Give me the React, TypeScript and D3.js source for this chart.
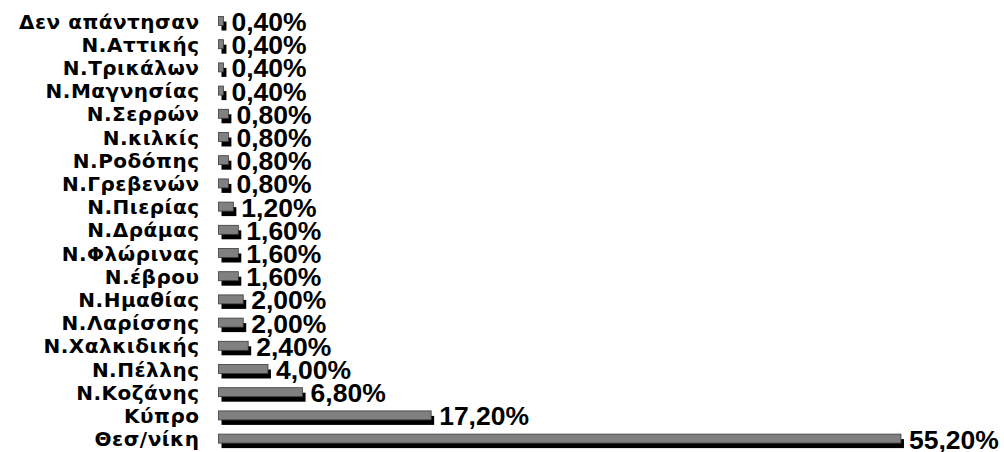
import React, { useEffect, useRef } from "react";
import * as d3 from "d3";

const categories = [
  "Δεν απάντησαν",
  "Ν.Αττικής",
  "Ν.Τρικάλων",
  "Ν.Μαγνησίας",
  "Ν.Σερρών",
  "Ν.κιλκίς",
  "Ν.Ροδόπης",
  "Ν.Γρεβενών",
  "Ν.Πιερίας",
  "Ν.Δράμας",
  "Ν.Φλώρινας",
  "Ν.έβρου",
  "Ν.Ημαθίας",
  "Ν.Λαρίσσης",
  "Ν.Χαλκιδικής",
  "Ν.Πέλλης",
  "Ν.Κοζάνης",
  "Κύπρο",
  "Θεσ/νίκη",
];

const values = [
  0.4, 0.4, 0.4, 0.4, 0.8, 0.8, 0.8, 0.8, 1.2, 1.6, 1.6, 1.6, 2.0, 2.0, 2.4,
  4.0, 6.8, 17.2, 55.2,
];

const App: React.FC = () => {
  const svgRef = useRef<SVGSVGElement | null>(null);
  const width = 1004;
  const height = 452;

  useEffect(() => {
    const svg = d3.select(svgRef.current);
    svg.selectAll("*").remove();

    const data = categories.map((name, i) => ({ name, value: values[i] }));

    const x = d3.scaleLinear().domain([0, 60]).range([218.5, 960.3]);
    const y = d3
      .scalePoint<string>()
      .domain(categories)
      .range([21, 438.6]);

    const barH = 9;
    const dx = 3;
    const dy = 5;

    const g = svg.append("g");

    // shadow
    g.selectAll(".shadow")
      .data(data)
      .enter()
      .append("rect")
      .attr("x", x(0) + dx)
      .attr("y", (d) => (y(d.name) as number) - barH / 2 + dy)
      .attr("width", (d) => Math.max(x(d.value) - x(0), 4))
      .attr("height", barH)
      .attr("fill", "#000");

    // bars
    g.selectAll(".bar")
      .data(data)
      .enter()
      .append("rect")
      .attr("x", x(0))
      .attr("y", (d) => (y(d.name) as number) - barH / 2)
      .attr("width", (d) => Math.max(x(d.value) - x(0), 4))
      .attr("height", barH)
      .attr("fill", "#808080")
      .attr("stroke", "#3a3a3a")
      .attr("stroke-width", 0.8);

    // category labels
    g.selectAll(".cat")
      .data(data)
      .enter()
      .append("text")
      .attr("x", 199 + 0.5)
      .attr("y", (d) => (y(d.name) as number) + 7.5)
      .attr("text-anchor", "end")
      .style("font-family", "'DejaVu Sans', Verdana, sans-serif")
      .style("font-weight", "bold")
      .style("font-size", "20px")
      .style("letter-spacing", "0.5px")
      .text((d) => d.name);

    // value labels
    g.selectAll(".val")
      .data(data)
      .enter()
      .append("text")
      .attr("x", (d) => x(d.value) + 8)
      .attr("y", (d) => (y(d.name) as number) + 10)
      .style("font-family", "'Liberation Sans', Arial, sans-serif")
      .style("font-weight", "bold")
      .style("font-size", "26.5px")
      .text((d) => d.value.toFixed(2).replace(".", ",") + "%");
  }, []);

  return (
    <svg
      ref={svgRef}
      width={width}
      height={height}
      style={{ position: "absolute", left: 0, top: 0, background: "#fff" }}
    ></svg>
  );
};

export default App;
